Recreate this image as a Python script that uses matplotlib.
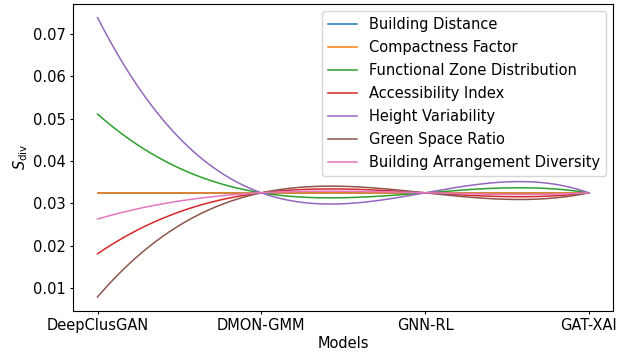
import numpy as np
import matplotlib
matplotlib.use("Agg")
import matplotlib.pyplot as plt

models = ["DeepClusGAN", "DMON-GMM", "GNN-RL", "GAT-XAI"]
series_names = ["Building Distance", "Compactness Factor", "Functional Zone Distribution",
                "Accessibility Index", "Height Variability", "Green Space Ratio",
                "Building Arrangement Diversity"]
building_distance = [0.0325, 0.0325, 0.0325, 0.0325]
compactness_factor = [0.0325, 0.0325, 0.0325, 0.0325]
functional_zone = [0.0511, 0.0325, 0.0325, 0.0325]
accessibility_index = [0.0181, 0.0325, 0.0325, 0.0325]
height_variability = [0.0739, 0.0325, 0.0325, 0.0325]
green_space_ratio = [0.0079, 0.0325, 0.0325, 0.0325]
arrangement_diversity = [0.0263, 0.0325, 0.0325, 0.0325]
all_series = [building_distance, compactness_factor, functional_zone, accessibility_index,
              height_variability, green_space_ratio, arrangement_diversity]


def cubic_curve(xp, yp, xs):
    # Lagrange cubic through the 4 points (smooth line style)
    out = np.zeros_like(xs)
    for i in range(len(xp)):
        term = np.full_like(xs, yp[i])
        for j in range(len(xp)):
            if j != i:
                term = term * (xs - xp[j]) / (xp[i] - xp[j])
        out = out + term
    return out


plt.rcParams['font.size'] = 10.5
plt.rcParams['xtick.major.size'] = 2.5
plt.rcParams['ytick.major.size'] = 2.5
plt.rcParams['xtick.major.pad'] = 2.5
plt.rcParams['ytick.major.pad'] = 2.5
fig, ax = plt.subplots(figsize=(6.29, 3.57), dpi=100)
x = np.arange(len(models), dtype=float)
xs = np.linspace(0, len(models) - 1, 300)
for name, vals in zip(series_names, all_series):
    ax.plot(xs, cubic_curve(x, vals, xs), label=name, linewidth=1.1)

ax.set_xticks(x)
ax.set_xticklabels(models)
ax.set_xlabel("Models", labelpad=2.5)
ax.set_ylabel(r"$S_{\mathrm{div}}$", labelpad=2.5)
ax.legend(loc="upper right", fontsize=10.5, labelspacing=0.55)
fig.subplots_adjust(left=0.116, right=0.975, top=0.99, bottom=0.129)
fig.savefig("out.png", dpi=100)
